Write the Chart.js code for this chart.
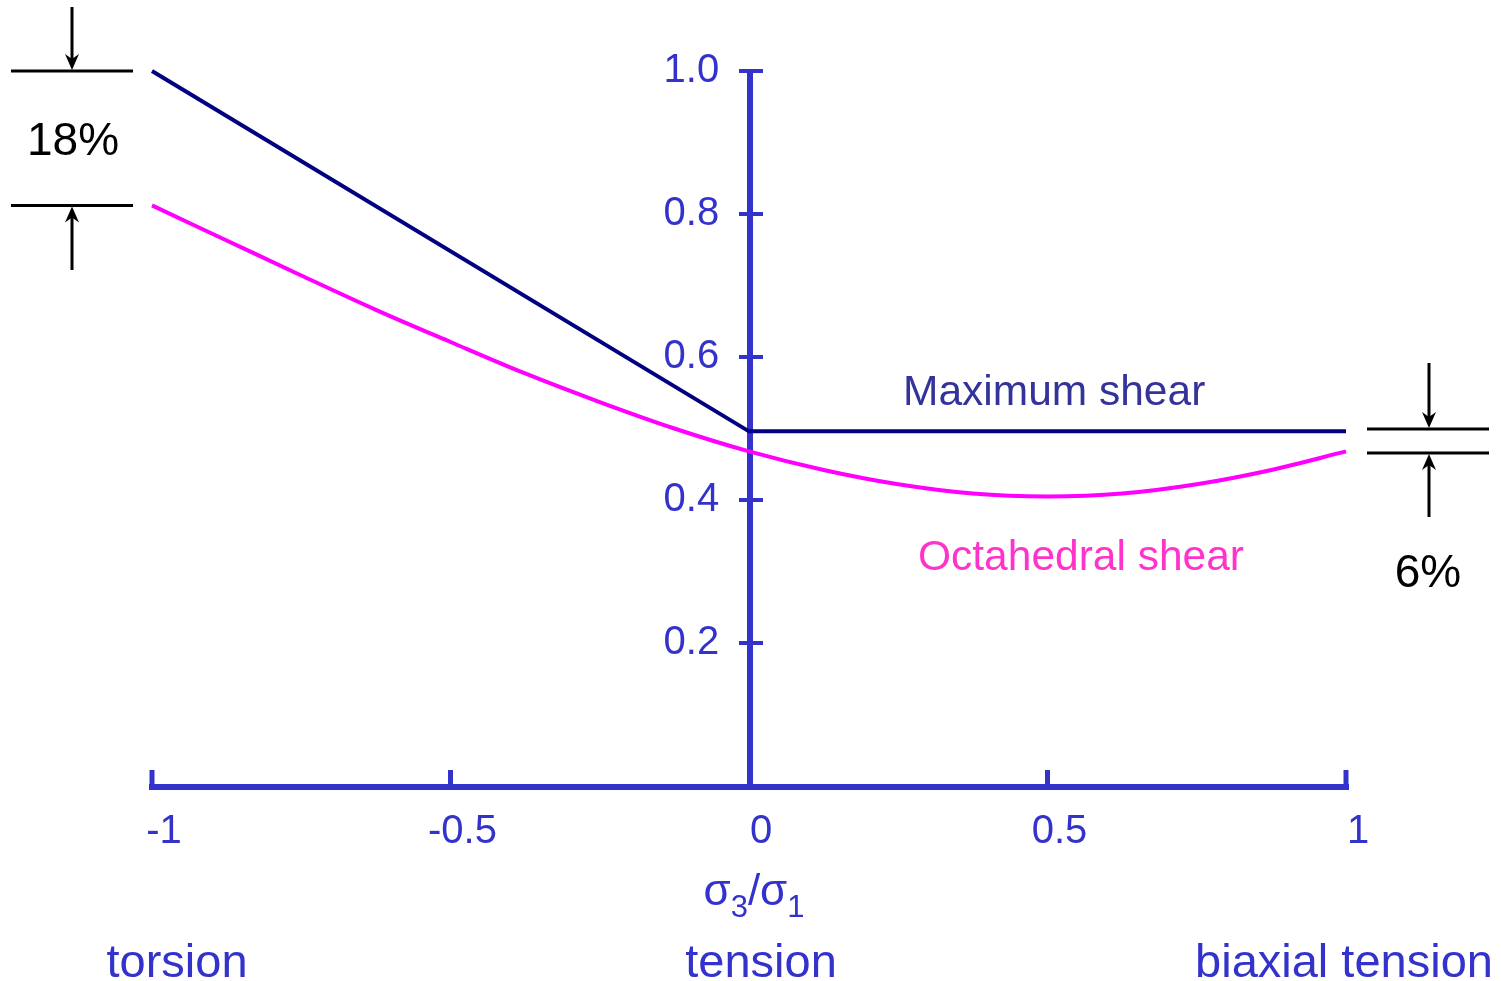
<!DOCTYPE html>
<html>
<head>
<meta charset="utf-8">
<script src="https://cdn.jsdelivr.net/npm/chart.js@4.4.0/dist/chart.umd.min.js"></script>
<style>
  html, body { margin: 0; padding: 0; background: #fff; }
  #wrap { width: 1501px; height: 981px; }
</style>
</head>
<body>
<div id="wrap"><canvas id="c" width="1501" height="981"></canvas></div>
<script>
// stress ratio sigma3/sigma1 and the two criteria
const ratio = [-1, -0.875, -0.75, -0.625, -0.5, -0.375, -0.25, -0.125, 0,
               0.125, 0.25, 0.375, 0.5, 0.625, 0.75, 0.875, 1];
const octShear = [0.812, 0.763, 0.714, 0.666, 0.621, 0.577, 0.537, 0.500, 0.468,
                  0.442, 0.422, 0.409, 0.405, 0.409, 0.422, 0.442, 0.468];
const maxRatio = [-1, 0, 1];
const maxShear = [1.0, 0.496, 0.496];

const xTicks = [-1, -0.5, 0, 0.5, 1];
const yTicks = [0.2, 0.4, 0.6, 0.8, 1.0];

const axisBlue = '#3333cc';
const font = '"Liberation Sans", Arial, sans-serif';

function toPoints(xs, ys) {
  return xs.map((v, i) => ({x: v, y: ys[i]}));
}

function arrow(ctx, x, from, to) {
  // shaft from -> to, head at "to"
  const dir = to > from ? 1 : -1;
  ctx.beginPath();
  ctx.moveTo(x, from);
  ctx.lineTo(x, to - dir * 6);
  ctx.stroke();
  ctx.beginPath();
  ctx.moveTo(x, to);
  ctx.lineTo(x - 7, to - dir * 16);
  ctx.lineTo(x, to - dir * 11);
  ctx.lineTo(x + 7, to - dir * 16);
  ctx.closePath();
  ctx.fill();
}

const axesPlugin = {
  id: 'axes',
  beforeDatasetsDraw(chart) {
    const {ctx, scales: {x, y}} = chart;
    const x0 = x.getPixelForValue(0);
    const yb = y.getPixelForValue(0);
    const yt = y.getPixelForValue(1);
    ctx.save();
    ctx.strokeStyle = axisBlue;
    ctx.lineCap = 'butt';
    ctx.lineWidth = 6;
    ctx.beginPath();
    ctx.moveTo(x.getPixelForValue(-1) - 3, yb + 1);
    ctx.lineTo(x.getPixelForValue(1) + 3, yb + 1);
    ctx.stroke();
    ctx.beginPath();
    ctx.moveTo(x0 + 1, yt - 2);
    ctx.lineTo(x0 + 1, yb);
    ctx.stroke();
    ctx.lineWidth = 5;
    xTicks.forEach(v => {
      if (v === 0) return;
      const px = x.getPixelForValue(v);
      ctx.beginPath();
      ctx.moveTo(px, yb);
      ctx.lineTo(px, yb - 16);
      ctx.stroke();
    });
    ctx.lineWidth = 4;
    yTicks.forEach(v => {
      const py = y.getPixelForValue(v);
      ctx.beginPath();
      ctx.moveTo(x0 - 10, py);
      ctx.lineTo(x0 + 14, py);
      ctx.stroke();
    });
    ctx.restore();
  },
  afterDraw(chart) {
    const {ctx, scales: {x, y}} = chart;
    ctx.save();
    ctx.textBaseline = 'alphabetic';
    ctx.textAlign = 'left';

    // series labels
    ctx.font = '42.5px ' + font;
    ctx.fillStyle = '#333399';
    ctx.fillText('Maximum shear', 903, 405);
    ctx.fillStyle = '#ff33cc';
    ctx.fillText('Octahedral shear', 918, 570);

    // x title sigma3/sigma1
    ctx.fillStyle = axisBlue;
    const big = '44px ' + font, small = '31px ' + font;
    const parts = [['\u03c3', big, 0], ['3', small, 12], ['/', big, 0], ['\u03c3', big, 0], ['1', small, 12]];
    let w = 0;
    parts.forEach(p => { ctx.font = p[1]; w += ctx.measureText(p[0]).width; });
    let cx = 754 - w / 2;
    parts.forEach(p => {
      ctx.font = p[1];
      ctx.fillText(p[0], cx, 905 + p[2]);
      cx += ctx.measureText(p[0]).width;
    });

    // regime names
    ctx.font = '47px ' + font;
    ctx.textAlign = 'center';
    ctx.fillText('torsion', 177, 977);
    ctx.fillText('tension', 761, 977);
    ctx.fillText('biaxial tension', 1344, 977);

    // difference markers
    ctx.fillStyle = '#000';
    ctx.strokeStyle = '#000';
    ctx.lineWidth = 3;
    const span = [[11, 133], [1367, 1489]];
    const yTop = y.getPixelForValue(maxShear[0]);
    const yBot = y.getPixelForValue(octShear[0]);
    ctx.beginPath();
    ctx.moveTo(span[0][0], yTop); ctx.lineTo(span[0][1], yTop);
    ctx.moveTo(span[0][0], yBot); ctx.lineTo(span[0][1], yBot);
    ctx.stroke();
    arrow(ctx, 72, 7, yTop - 1);
    arrow(ctx, 72, 270, yBot + 1);

    const rTop = 429, rBot = 453;
    ctx.beginPath();
    ctx.moveTo(span[1][0], rTop); ctx.lineTo(span[1][1], rTop);
    ctx.moveTo(span[1][0], rBot); ctx.lineTo(span[1][1], rBot);
    ctx.stroke();
    arrow(ctx, 1429, 363, rTop - 1);
    arrow(ctx, 1429, 517, rBot + 1);

    ctx.font = '46px ' + font;
    ctx.fillText('18%', 73, 155);
    ctx.fillText('6%', 1428, 587);
    ctx.restore();
  }
};

new Chart(document.getElementById('c'), {
  type: 'scatter',
  data: {
    datasets: [
      {
        label: 'Maximum shear',
        data: toPoints(maxRatio, maxShear),
        showLine: true,
        borderColor: '#000080',
        borderWidth: 4,
        pointRadius: 0,
        clip: false
      },
      {
        label: 'Octahedral shear',
        data: toPoints(ratio, octShear),
        showLine: true,
        borderColor: '#ff00ff',
        borderWidth: 4,
        pointRadius: 0,
        cubicInterpolationMode: 'monotone',
        clip: false
      }
    ]
  },
  options: {
    responsive: false,
    animation: false,
    layout: {padding: {left: 152, right: 155, top: 71, bottom: 195}},
    plugins: {legend: {display: false}, tooltip: {enabled: false}},
    scales: {
      x: {
        type: 'linear',
        position: {y: 0},
        min: -1, max: 1,
        grid: {display: false, drawTicks: false},
        border: {display: false},
        afterBuildTicks(s) { s.ticks = xTicks.map(v => ({value: v})); },
        ticks: {
          color: axisBlue,
          font: {family: font, size: 40},
          padding: 22,
          labelOffset: 12,
          maxRotation: 0,
          autoSkip: false,
          callback: v => String(v)
        }
      },
      y: {
        type: 'linear',
        // labels sit a little left of the axis line drawn at x = 0
        position: {x: -0.05},
        min: 0, max: 1,
        grid: {display: false, drawTicks: false},
        border: {display: false},
        afterBuildTicks(s) { s.ticks = yTicks.map(v => ({value: v})); },
        ticks: {
          color: axisBlue,
          font: {family: font, size: 40},
          padding: 0,
          autoSkip: false,
          callback: v => Number(v).toFixed(1)
        }
      }
    }
  },
  plugins: [axesPlugin]
});
</script>
</body>
</html>
